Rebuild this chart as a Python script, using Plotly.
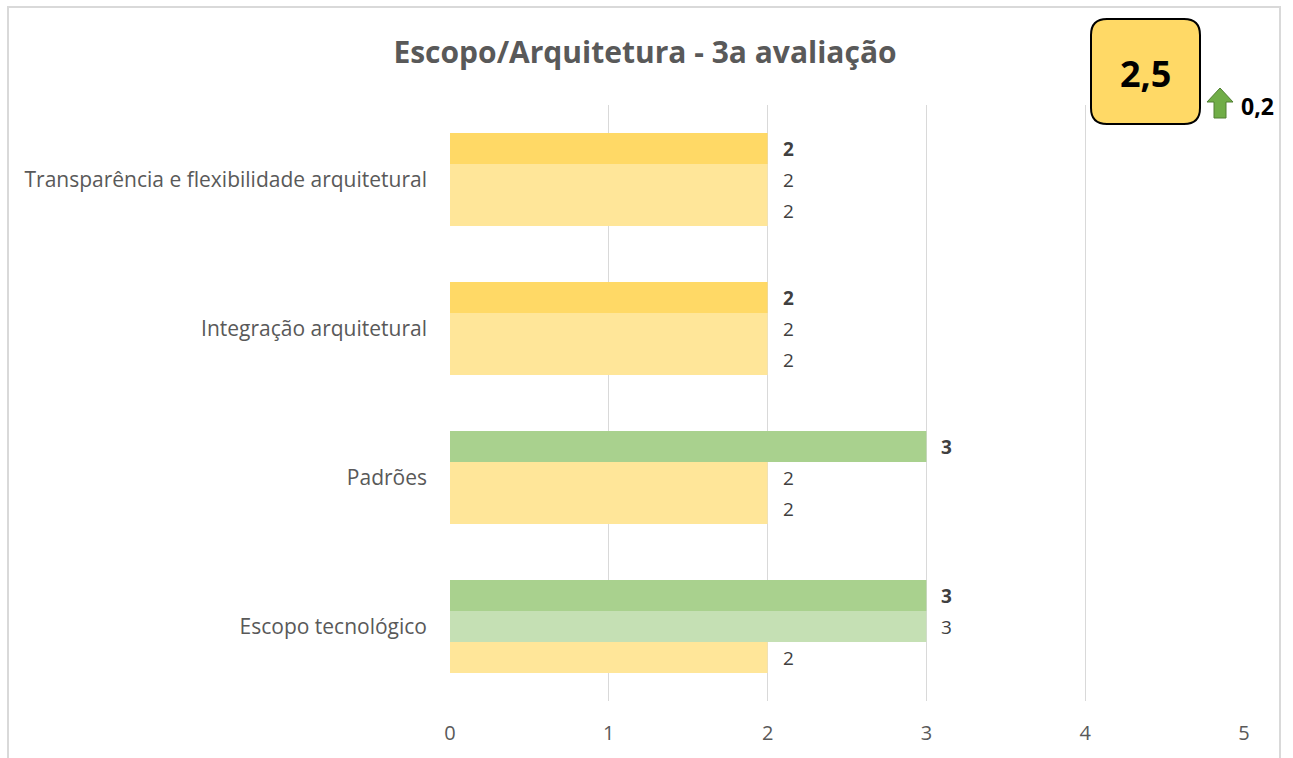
import plotly.graph_objects as go

# Criteria shown on the chart, top to bottom
categories = [
    "Transparência e flexibilidade arquitetural",
    "Integração arquitetural",
    "Padrões",
    "Escopo tecnológico",
]

# Scores per evaluation round (3a is the latest, drawn on top in each group)
aval_3 = [2, 2, 3, 3]
aval_2 = [2, 2, 2, 3]
aval_1 = [2, 2, 2, 2]

overall_score = "2,5"
score_change = "0,2"
x_ticks = [0, 1, 2, 3, 4, 5]

# Colours: strong tone for the latest round, soft tone for the previous ones
strong = {2: "#FFD966", 3: "#A9D18E"}
soft = {2: "#FFE699", 3: "#C5E0B4"}

W, H = 1293, 758
L, R, T, B = 450, 49, 105, 57
PW, PH = W - L - R, H - T - B
FONT = "Open Sans, sans-serif"
GREY = "#595959"


def px(x):
    return (x - L) / PW


def py(y):
    return (H - B - y) / PH


series = [
    (aval_3, strong, True, 31),
    (aval_2, soft, False, 0),
    (aval_1, soft, False, -31),
]

fig = go.Figure()
annotations = []
for vals, palette, bold, shift in series:
    fig.add_trace(
        go.Bar(
            x=vals,
            y=categories,
            orientation="h",
            marker=dict(color=[palette[v] for v in vals], line=dict(width=0)),
            hoverinfo="skip",
            showlegend=False,
        )
    )
    for cat, v in zip(categories, vals):
        annotations.append(
            dict(
                x=v, y=cat, xref="x", yref="y",
                text=f"<b>{v}</b>" if bold else str(v),
                showarrow=False, xanchor="left", yanchor="middle",
                xshift=13, yshift=shift,
                font=dict(family=FONT, size=19, color="#404040"),
            )
        )

# Overall score badge text and change indicator
annotations += [
    dict(
        x=px(1145), y=py(73), xref="paper", yref="paper",
        text=f"<b>{overall_score}</b>", showarrow=False,
        xanchor="center", yanchor="middle",
        font=dict(family=FONT, size=36, color="#000000"),
    ),
    dict(
        x=px(1239), y=py(106), xref="paper", yref="paper",
        text=f"<b>{score_change}</b>", showarrow=False,
        xanchor="left", yanchor="middle",
        font=dict(family=FONT, size=23, color="#000000"),
    ),
]


def rounded_rect(x0, y0, x1, y1, r):
    rx, ry = r / PW, r / PH
    a0, a1 = px(x0), px(x1)
    b0, b1 = py(y0), py(y1)  # b0 top, b1 bottom
    return (
        f"M {a0 + rx},{b0} L {a1 - rx},{b0} Q {a1},{b0} {a1},{b0 - ry} "
        f"L {a1},{b1 + ry} Q {a1},{b1} {a1 - rx},{b1} "
        f"L {a0 + rx},{b1} Q {a0},{b1} {a0},{b1 + ry} "
        f"L {a0},{b0 - ry} Q {a0},{b0} {a0 + rx},{b0} Z"
    )


arrow_pts = [(1220, 88), (1233, 102), (1226, 102), (1226, 118),
             (1214, 118), (1214, 102), (1207, 102)]
arrow_path = "M " + " L ".join(f"{px(x)},{py(y)}" for x, y in arrow_pts) + " Z"

shapes = [
    # chart frame
    dict(type="rect", xref="paper", yref="paper",
         x0=px(8), x1=px(1280), y0=py(770), y1=py(7),
         line=dict(color="#D9D9D9", width=2), fillcolor="rgba(0,0,0,0)",
         layer="below"),
    dict(type="path", xref="paper", yref="paper",
         path=rounded_rect(1091, 19, 1200, 124, 16),
         fillcolor="#FFD966", line=dict(color="#000000", width=2)),
    dict(type="path", xref="paper", yref="paper", path=arrow_path,
         fillcolor="#70AD47", line=dict(color="#507E32", width=1)),
]

fig.update_layout(
    width=W, height=H,
    margin=dict(l=L, r=R, t=T, b=B, pad=0),
    paper_bgcolor="white", plot_bgcolor="white",
    barmode="group", bargap=0.376, bargroupgap=0,
    title=dict(
        text="<b>Escopo/Arquitetura - 3a avaliação</b>",
        x=px(645), xanchor="center", y=1 - 52 / H, yanchor="middle",
        xref="paper",
        font=dict(family=FONT, size=30, color=GREY),
    ),
    xaxis=dict(
        range=[0, 5], tickvals=x_ticks, showgrid=True,
        gridcolor="#D9D9D9", gridwidth=1, zeroline=False,
        showline=False, ticks="", ticklabelstandoff=18,
        tickfont=dict(family=FONT, size=20, color=GREY),
        fixedrange=True,
    ),
    yaxis=dict(
        categoryorder="array", categoryarray=categories,
        autorange="reversed", showgrid=False, zeroline=False,
        showline=False, ticks="", ticklabelstandoff=22,
        tickfont=dict(family=FONT, size=21, color=GREY),
        fixedrange=True,
    ),
    annotations=annotations,
    shapes=shapes,
)

fig.write_html("out.html")
